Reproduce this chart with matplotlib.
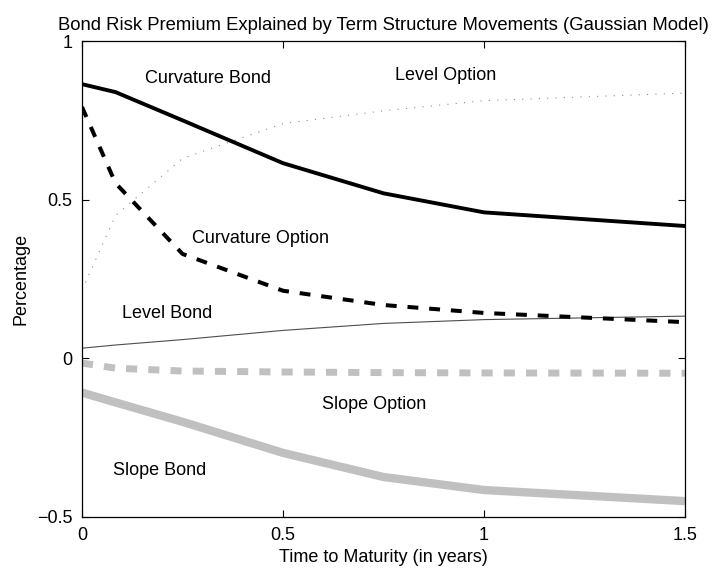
# -*- coding:utf-8 -*-
from matplotlib import pyplot as plt

# 期限（年）
maturity = [0, 1 / 12, 0.25, 0.5, 0.75, 1, 1.5]

# 各成分对风险溢价的贡献
curvature_bond = [0.864, 0.839, 0.75, 0.615, 0.52, 0.46, 0.417]
curvature_option = [0.792, 0.552, 0.329, 0.213, 0.168, 0.143, 0.114]
level_option = [0.215, 0.45, 0.63, 0.74, 0.78, 0.812, 0.836]
level_bond = [0.032, 0.042, 0.059, 0.088, 0.11, 0.122, 0.133]
slope_option = [-0.015, -0.031, -0.04, -0.043, -0.045, -0.046, -0.047]
slope_bond = [-0.108, -0.139, -0.2, -0.298, -0.374, -0.415, -0.45]

x_ticks = [0, 0.5, 1, 1.5]
y_ticks = [-0.5, 0, 0.5, 1]


def draw_lines():
    """
    绘制折线图
    :return:
    """
    plt.rcParams['font.family'] = ['Liberation Sans', 'DejaVu Sans']
    plt.rcParams['font.size'] = 13

    fig = plt.figure(figsize=(7.15, 5.68), dpi=100)
    ax = fig.add_axes([0.1147, 0.0898, 0.8434, 0.838])

    gray = '#c0c0c0'
    ax.plot(maturity, slope_bond, color=gray, lw=6, solid_capstyle='butt')
    ax.plot(maturity, slope_option, color=gray, lw=5, linestyle=(0, (1.6, 1.6)))
    ax.plot(maturity, level_option, color='0.55', lw=0.8, linestyle=(0, (1, 6.5)))
    ax.plot(maturity, level_bond, color='0.3', lw=0.8)
    ax.plot(maturity, curvature_bond, color='black', lw=2.8)
    ax.plot(maturity, curvature_option, color='black', lw=2.9, linestyle=(0, (2.7, 2.7)))

    # 曲线标注
    ax.text(0.157, 0.883, 'Curvature Bond', va='center')
    ax.text(0.779, 0.89, 'Level Option', va='center')
    ax.text(0.274, 0.379, 'Curvature Option', va='center')
    ax.text(0.1, 0.14, 'Level Bond', va='center')
    ax.text(0.597, -0.147, 'Slope Option', va='center')
    ax.text(0.077, -0.355, 'Slope Bond', va='center')

    ax.set_xlim(0, 1.5)
    ax.set_ylim(-0.5, 1)
    ax.set_xticks(x_ticks)
    ax.set_xticklabels(['0', '0.5', '1', '1.5'])
    ax.set_yticks(y_ticks)
    ax.set_yticklabels(['\u22120.5', '0', '0.5', '1'])
    ax.tick_params(direction='in', length=5, width=0.8, top=True, right=True, pad=7)
    for spine in ax.spines.values():
        spine.set_linewidth(0.9)

    ax.set_title('Bond Risk Premium Explained by Term Structure Movements (Gaussian Model)',
                 fontsize=13.3, pad=8)
    ax.set_xlabel('Time to Maturity (in years)', labelpad=4)
    ax.set_ylabel('Percentage', labelpad=5)

    fig.savefig('out.png', dpi=100)


if __name__ == '__main__':
    draw_lines()
